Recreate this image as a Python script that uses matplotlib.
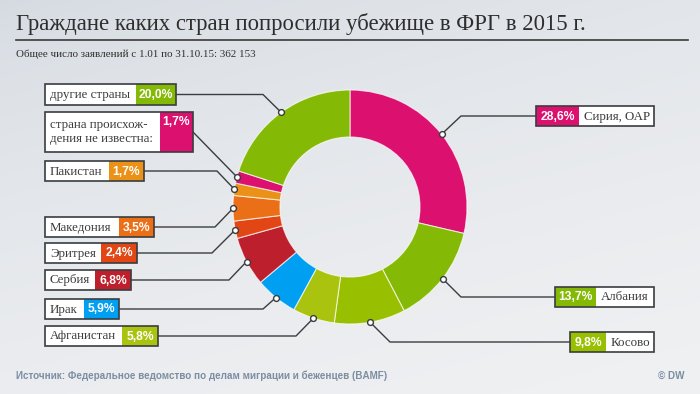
import numpy as np
import matplotlib
matplotlib.use("Agg")
import matplotlib.pyplot as plt
from matplotlib.patches import Rectangle

# ---- data ----
countries = ["Сирия, ОАР", "Албания", "Косово", "Афганистан", "Ирак", "Сербия",
             "Эритрея", "Македония", "Пакистан",
             "страна происхож-\nдения не известна:", "другие страны"]
shares = [28.6, 13.7, 9.8, 5.8, 5.9, 6.8, 2.4, 3.5, 1.7, 1.7, 20.0]
share_labels = ["28,6%", "13,7%", "9,8%", "5,8%", "5,9%", "6,8%", "2,4%", "3,5%",
                "1,7%", "1,7%", "20,0%"]
slice_colors = ["#dc106f", "#84b906", "#98bf00", "#a9c30f", "#019ff2", "#bd1f2c",
                "#e14614", "#eb6f16", "#ec9117", "#dc106f", "#84b906"]

title = "Граждане каких стран попросили убежище в ФРГ в 2015 г."
subtitle = "Общее число заявлений с 1.01 по 31.10.15: 362 153"
source = "Источник: Федеральное ведомство по делам миграции и беженцев (BAMF)"
credit = "© DW"

# ---- layout (pixel space) ----
W, H = 700, 394
CX, CY, R_OUT, R_IN = 350, 207, 117, 70

# box: (left, top, white_width, colour_width, height, side, elbow_x)
boxes = [
    (536, 106, 75, 43, 20, "R", 461),   # Сирия
    (555, 287, 58, 41, 20, "R", 461),   # Албания
    (570, 332, 48, 36, 20, "R", 390),   # Косово
    (45, 326, 77, 36, 20, "L", 296),    # Афганистан
    (45, 299, 39, 35, 20, "L", 263),    # Ирак
    (45, 270, 50, 36, 20, "L", 229),    # Сербия
    (45, 243, 56, 36, 20, "L", 212),    # Эритрея
    (45, 217, 74, 35, 20, "L", 215),    # Македония
    (45, 161, 64, 35, 20, "L", 217),    # Пакистан
    (45, 112, 115, 33, 40, "L", 193),   # неизвестна
    (45, 84, 91, 40, 21, "L", 263),     # другие
]

fig = plt.figure(figsize=(W / 100, H / 100), dpi=100)
ax = fig.add_axes([0, 0, 1, 1])
ax.set_xlim(0, W)
ax.set_ylim(H, 0)
ax.axis("off")

# background gradient
yy, xx = np.mgrid[0:1:200j, 0:1:350j]
t = np.clip(0.75 * yy + 0.35 * xx, 0, 1) ** 0.6
c0 = np.array([0xd4, 0xda, 0xe1]) / 255
c1 = np.array([0xef, 0xf0, 0xf2]) / 255
img = c0[None, None, :] * (1 - t[..., None]) + c1[None, None, :] * t[..., None]
ax.imshow(img, extent=(0, W, H, 0), aspect="auto", zorder=0)

# donut (y axis inverted: startangle -90 is the top, counterclock goes clockwise on screen)
wedges, _ = ax.pie(shares, colors=slice_colors, startangle=-90, counterclock=True,
                   center=(CX, CY), radius=R_OUT,
                   wedgeprops=dict(width=R_OUT - R_IN, edgecolor=(1, 1, 1, 0.7),
                                   linewidth=0.8))
ax.set_xlim(0, W)
ax.set_ylim(H, 0)
ax.set_aspect("auto")
ax.axis("off")

serif = "Liberation Serif"
sans = "Liberation Sans"
line_col = "#3a3d40"

for w, name, lab, col, b in zip(wedges, countries, share_labels, slice_colors, boxes):
    left, top, ww, cw, h, side, ex = b
    mid = np.deg2rad((w.theta1 + w.theta2) / 2)
    dx, dy = CX + R_OUT * np.cos(mid), CY + R_OUT * np.sin(mid)
    ly = top + h / 2
    bx_edge = left if side == "R" else left + ww + cw
    # leader line: box -> elbow -> dot
    if name.startswith("страна"):
        ax.plot([bx_edge, dx], [top + 20, dy], color=line_col, lw=1, zorder=3)
    else:
        ax.plot([bx_edge, ex, dx], [ly, ly, dy], color=line_col, lw=1, zorder=3)
    ax.plot(dx, dy, "o", ms=4.2, mfc="white", mec=line_col, mew=1, zorder=4)

    if side == "R":
        cx0, wx0 = left, left + cw
    else:
        wx0, cx0 = left, left + ww
    ax.add_patch(Rectangle((wx0, top), ww, h, facecolor="white", edgecolor="none", zorder=3))
    ax.add_patch(Rectangle((cx0, top), cw, h, facecolor=col, edgecolor="none", zorder=3))
    ax.add_patch(Rectangle((left, top), ww + cw, h, facecolor="none",
                           edgecolor=line_col, lw=1.2, zorder=4))
    if name.startswith("страна"):
        ax.text(wx0 + 5, top + h / 2, name, ha="left", va="center", fontsize=9.3,
                family=serif, color="#3a3a3a", linespacing=1.25, zorder=5)
        ax.text(cx0 + cw / 2, top + 10, lab, ha="center", va="center", fontsize=8.7,
                family=sans, weight="bold", color="white", zorder=5)
    else:
        ax.text(wx0 + 5, top + h / 2 + 0.5, name, ha="left", va="center", fontsize=9.3,
                family=serif, color="#3a3a3a", zorder=5)
        ax.text(cx0 + cw / 2, top + h / 2 + 0.5, lab, ha="center", va="center",
                fontsize=8.7, family=sans, weight="bold", color="white", zorder=5)

# titles
ax.text(16, 30, title, ha="left", va="baseline", fontsize=16.4, family=serif,
        color="#2e2e2e")
ax.plot([16, 688], [40, 40], color="#3a3a3a", lw=1.2)
ax.text(16, 57, subtitle, ha="left", va="baseline", fontsize=7.9, family=serif,
        color="#2e2e2e")
ax.text(16, 376, source, ha="left", va="center", fontsize=7.1, family=sans,
        weight="bold", color="#7b8ea2")
ax.text(685, 376, credit, ha="right", va="center", fontsize=7.1, family=sans,
        weight="bold", color="#7b8ea2")

fig.savefig("out.png", dpi=100)
